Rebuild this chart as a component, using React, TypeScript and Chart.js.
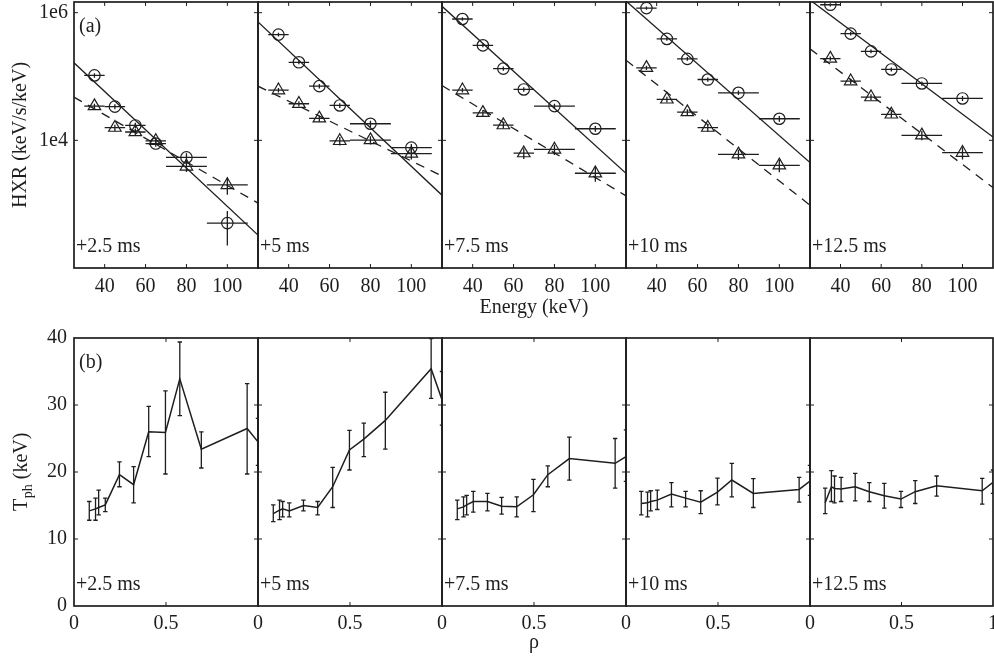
import React, { useEffect, useRef } from 'react';
import { Chart, registerables } from 'chart.js';

Chart.register(...registerables);

const FONT_FAMILY = '"Liberation Serif", "Times New Roman", serif';
const INK = '#1e1e1e';

// ---------- shared labels ----------
const panelDelays = ['+2.5 ms', '+5 ms', '+7.5 ms', '+10 ms', '+12.5 ms'];

// ---------- (a) HXR spectra ----------
const energies = [35, 45, 55, 65, 80, 100];
const binLow = [30, 40, 50, 60, 70, 90];
const binHigh = [40, 50, 60, 70, 90, 110];
const energyTicks = [40, 60, 80, 100];
const hxrTicks = [1e4, 1e6];
const hxrTickLabels = ['1e4', '1e6'];
const fitEnergy = [25, 115];

const circles1 = [1.04e5, 3.37e4, 1.71e4, 8.9e3, 5.4e3, 505];
const circles2 = [4.53e5, 1.67e5, 7.06e4, 3.52e4, 1.82e4, 7.7e3];
const circles3 = [7.96e5, 3.08e5, 1.33e5, 6.27e4, 3.44e4, 1.52e4];
const circles4 = [1.18e6, 3.88e5, 1.89e5, 8.97e4, 5.56e4, 2.18e4];
const circles5 = [1.33e6, 4.7e5, 2.48e5, 1.29e5, 7.78e4, 4.53e4];

const circleErr1 = [8e3, 3e3, 1.8e3, 1.0e3, 900, 280];
const circleErr2 = [3e4, 1.2e4, 6e3, 3e3, 2e3, 1.1e3];
const circleErr3 = [5e4, 2e4, 1e4, 5e3, 3e3, 1.6e3];
const circleErr4 = [7e4, 2.5e4, 1.3e4, 7e3, 4.5e3, 2.2e3];
const circleErr5 = [8e4, 3e4, 1.6e4, 9e3, 6e3, 4e3];

const triangles1 = [3.44e4, 1.58e4, 1.35e4, 9.8e3, 3.9e3, 2.0e3];
const triangles2 = [6.1e4, 3.74e4, 2.21e4, 9.8e3, 1.01e4, 6.2e3];
const triangles3 = [6.1e4, 2.7e4, 1.73e4, 6.3e3, 7.2e3, 3.05e3];
const triangles4 = [1.37e5, 4.38e4, 2.77e4, 1.58e4, 6.04e3, 4.06e3];
const triangles5 = [1.91e5, 8.45e4, 4.75e4, 2.55e4, 1.2e4, 6.4e3];

const triangleErr1 = [3e3, 1.8e3, 1.6e3, 1.2e3, 700, 600];
const triangleErr2 = [5e3, 3.5e3, 2.5e3, 1.5e3, 1.5e3, 1.2e3];
const triangleErr3 = [5e3, 3e3, 2e3, 1.2e3, 1.3e3, 800];
const triangleErr4 = [1e4, 4.5e3, 3e3, 2.2e3, 1.1e3, 900];
const triangleErr5 = [1.4e4, 8e3, 5e3, 3e3, 2e3, 1.4e3];

// fitted power laws, values at 25 keV and 115 keV
const fitSolid1 = [1.64e5, 328];
const fitSolid2 = [7.16e5, 1.38e3];
const fitSolid3 = [1.26e6, 3.05e3];
const fitSolid4 = [1.52e6, 4.48e3];
const fitSolid5 = [1.58e6, 1.13e4];
const fitDashed1 = [4.75e4, 1.04e3];
const fitDashed2 = [7.05e4, 2.77e3];
const fitDashed3 = [7.2e4, 1.35e3];
const fitDashed4 = [1.8e5, 964];
const fitDashed5 = [2.71e5, 1.82e3];

const hxrCircles = [circles1, circles2, circles3, circles4, circles5];
const hxrCircleErr = [circleErr1, circleErr2, circleErr3, circleErr4, circleErr5];
const hxrTriangles = [triangles1, triangles2, triangles3, triangles4, triangles5];
const hxrTriangleErr = [triangleErr1, triangleErr2, triangleErr3, triangleErr4, triangleErr5];
const hxrFitSolid = [fitSolid1, fitSolid2, fitSolid3, fitSolid4, fitSolid5];
const hxrFitDashed = [fitDashed1, fitDashed2, fitDashed3, fitDashed4, fitDashed5];

// ---------- (b) photon temperature profiles ----------
const rho = [0.083, 0.117, 0.134, 0.170, 0.247, 0.324, 0.406, 0.497, 0.575, 0.692, 0.941, 1.0];
const rhoTicks = [0, 0.5, 1];
const rhoTickLabels = ['0', '0.5', '1'];
const tphTicks = [0, 10, 20, 30, 40];

const tph1 = [14.2, 14.5, 14.7, 15.1, 19.6, 18.1, 26.0, 25.9, 33.9, 23.4, 26.5, 24.5];
const tph2 = [13.8, 14.3, 14.5, 14.2, 15.0, 14.7, 17.8, 23.3, 24.9, 27.7, 35.4, 30.8];
const tph3 = [14.5, 14.8, 15.1, 15.6, 15.6, 14.9, 14.8, 16.6, 19.6, 22.0, 21.3, 22.3];
const tph4 = [15.3, 15.4, 15.6, 15.8, 16.7, 16.1, 15.5, 17.0, 18.8, 16.8, 17.4, 18.65];
const tph5 = [15.4, 17.8, 17.55, 17.46, 17.8, 17.06, 16.46, 15.96, 17.06, 17.96, 17.2, 18.45];

const tphLow1 = [12.8, 12.8, 13.6, 14.1, 17.8, 15.4, 22.3, 19.7, 28.4, 20.6, 19.7, 21.0];
const tphLow2 = [12.6, 12.9, 13.3, 13.3, 14.2, 13.6, 14.7, 20.3, 22.3, 23.4, 31.0, 27.0];
const tphLow3 = [12.9, 13.3, 13.6, 14.0, 14.2, 13.7, 13.3, 14.1, 17.8, 18.8, 17.6, 18.6];
const tphLow4 = [13.6, 13.3, 14.2, 14.4, 14.8, 14.8, 13.8, 15.1, 16.3, 14.7, 15.5, 16.5];
const tphLow5 = [13.8, 15.6, 15.4, 15.6, 15.7, 15.6, 14.6, 14.7, 15.3, 16.4, 15.2, 16.8];

const tphHigh1 = [15.6, 16.1, 17.3, 16.1, 21.5, 20.8, 29.8, 32.1, 39.4, 26.0, 33.2, 28.0];
const tphHigh2 = [15.1, 15.8, 15.6, 15.4, 15.8, 15.6, 20.7, 26.2, 27.3, 31.9, 39.9, 35.0];
const tphHigh3 = [15.8, 16.3, 16.5, 17.1, 16.8, 16.2, 16.3, 18.9, 20.9, 25.2, 25.0, 26.3];
const tphHigh4 = [17.1, 17.0, 17.2, 17.3, 18.4, 17.1, 17.2, 19.1, 21.3, 19.0, 19.2, 21.0];
const tphHigh5 = [17.6, 20.2, 19.4, 19.2, 19.8, 18.4, 18.3, 17.1, 18.7, 19.4, 19.05, 20.3];

const tphSeries = [tph1, tph2, tph3, tph4, tph5];
const tphLowSeries = [tphLow1, tphLow2, tphLow3, tphLow4, tphLow5];
const tphHighSeries = [tphHigh1, tphHigh2, tphHigh3, tphHigh4, tphHigh5];

// ---------- layout (pixels) ----------
const W = 994;
const H = 664;
const panelLeft = [74, 258, 442, 626, 810];
const panelRight = [258, 442, 626, 810, 993];

const font20 = { family: FONT_FAMILY, size: 20 };

const decorPlugin = {
  id: 'decor',
  afterDatasetsDraw(chart: any, _args: any, opts: any) {
    const { ctx, chartArea: a } = chart;
    const xs = chart.scales.x;
    const ys = chart.scales.y;
    ctx.save();
    ctx.beginPath();
    ctx.rect(a.left, a.top, a.right - a.left, a.bottom - a.top);
    ctx.clip();
    ctx.strokeStyle = INK;
    ctx.lineWidth = 1.3;
    chart.data.datasets.forEach((ds: any, di: number) => {
      const eb = ds.errorBars;
      if (!eb) return;
      const meta = chart.getDatasetMeta(di);
      meta.data.forEach((pt: any, k: number) => {
        ctx.beginPath();
        if (eb.xLow) {
          ctx.moveTo(xs.getPixelForValue(eb.xLow[k]), pt.y);
          ctx.lineTo(xs.getPixelForValue(eb.xHigh[k]), pt.y);
        }
        const y0 = ys.getPixelForValue(eb.yLow[k]);
        const y1 = ys.getPixelForValue(eb.yHigh[k]);
        ctx.moveTo(pt.x, y0);
        ctx.lineTo(pt.x, y1);
        if (eb.cap) {
          ctx.moveTo(pt.x - eb.cap, y0);
          ctx.lineTo(pt.x + eb.cap, y0);
          ctx.moveTo(pt.x - eb.cap, y1);
          ctx.lineTo(pt.x + eb.cap, y1);
        }
        ctx.stroke();
      });
    });
    ctx.restore();
  },
  afterDraw(chart: any, _args: any, opts: any) {
    const { ctx, chartArea: a } = chart;
    const xs = chart.scales.x;
    const ys = chart.scales.y;
    const tl = 4;
    ctx.save();
    ctx.strokeStyle = INK;
    ctx.lineWidth = 1;
    ctx.beginPath();
    xs.ticks.forEach((t: any) => {
      const px = xs.getPixelForValue(t.value);
      if (px <= a.left + 1 || px >= a.right - 1) return;
      ctx.moveTo(px, a.bottom);
      ctx.lineTo(px, a.bottom - tl);
      ctx.moveTo(px, a.top);
      ctx.lineTo(px, a.top + tl);
    });
    ys.ticks.forEach((t: any) => {
      const py = ys.getPixelForValue(t.value);
      if (py <= a.top + 1 || py >= a.bottom - 1) return;
      ctx.moveTo(a.left, py);
      ctx.lineTo(a.left + tl, py);
      ctx.moveTo(a.right, py);
      ctx.lineTo(a.right - tl, py);
    });
    ctx.stroke();
    ctx.lineWidth = 1.7;
    ctx.strokeRect(a.left, a.top, a.right - a.left, a.bottom - a.top);

    ctx.fillStyle = INK;
    ctx.font = `20px ${FONT_FAMILY}`;
    ctx.textAlign = 'left';
    ctx.textBaseline = 'middle';
    if (opts.tag) ctx.fillText(opts.tag, a.left + 5, a.top + 25);
    if (opts.delay) ctx.fillText(opts.delay, a.left + 2, a.bottom - 21);

    if (opts.tphTitle) {
      ctx.save();
      ctx.translate(27, (a.top + a.bottom) / 2);
      ctx.rotate(-Math.PI / 2);
      ctx.textBaseline = 'alphabetic';
      ctx.font = `20px ${FONT_FAMILY}`;
      const wT = ctx.measureText('T').width;
      const wR = ctx.measureText(' (keV)').width;
      ctx.font = `14px ${FONT_FAMILY}`;
      const wS = ctx.measureText('ph').width;
      let x = -(wT + wS + wR) / 2;
      ctx.font = `20px ${FONT_FAMILY}`;
      ctx.fillText('T', x, 0);
      x += wT;
      ctx.font = `14px ${FONT_FAMILY}`;
      ctx.fillText('ph', x + 0.5, 5);
      x += wS + 0.5;
      ctx.font = `20px ${FONT_FAMILY}`;
      ctx.fillText(' (keV)', x, 0);
      ctx.restore();
    }
    ctx.restore();
  },
};

function topConfig(i: number): any {
  const first = i === 0;
  const circ = hxrCircles[i];
  const cErr = hxrCircleErr[i];
  const tri = hxrTriangles[i];
  const tErr = hxrTriangleErr[i];
  return {
    type: 'line',
    plugins: [decorPlugin],
    data: {
      datasets: [
        {
          data: fitEnergy.map((e, k) => ({ x: e, y: hxrFitSolid[i][k] })),
          borderColor: INK,
          borderWidth: 1.3,
          pointRadius: 0,
          clip: 0,
        },
        {
          data: fitEnergy.map((e, k) => ({ x: e, y: hxrFitDashed[i][k] })),
          borderColor: INK,
          borderWidth: 1.3,
          borderDash: [9, 7],
          pointRadius: 0,
          clip: 0,
        },
        {
          data: energies.map((e, k) => ({ x: e, y: tri[k] })),
          showLine: false,
          pointStyle: 'triangle',
          pointRadius: 7.2,
          pointBorderColor: INK,
          pointBackgroundColor: 'rgba(0,0,0,0)',
          pointBorderWidth: 1.2,
          clip: 0,
          errorBars: {
            xLow: binLow,
            xHigh: binHigh,
            yLow: tri.map((v, k) => v - tErr[k]),
            yHigh: tri.map((v, k) => v + tErr[k]),
          },
        },
        {
          data: energies.map((e, k) => ({ x: e, y: circ[k] })),
          showLine: false,
          pointStyle: 'circle',
          pointRadius: 5.7,
          pointBorderColor: INK,
          pointBackgroundColor: 'rgba(0,0,0,0)',
          pointBorderWidth: 1.2,
          clip: 0,
          errorBars: {
            xLow: binLow,
            xHigh: binHigh,
            yLow: circ.map((v, k) => v - cErr[k]),
            yHigh: circ.map((v, k) => v + cErr[k]),
          },
        },
      ],
    },
    options: {
      responsive: false,
      animation: false,
      events: [],
      layout: {
        autoPadding: false,
        padding: { left: first ? 0 : panelLeft[i], right: W - panelRight[i], top: 2, bottom: H - 320 },
      },
      plugins: {
        legend: { display: false },
        tooltip: { enabled: false },
        decor: { tag: first ? '(a)' : '', delay: panelDelays[i] },
      },
      scales: {
        x: {
          type: 'linear',
          min: 25,
          max: 115,
          grid: { display: false, drawTicks: false },
          border: { display: false },
          afterBuildTicks: (s: any) => {
            s.ticks = energyTicks.map((v) => ({ value: v }));
          },
          afterFit: (s: any) => {
            s.height = 52;
            s.paddingLeft = 0;
            s.paddingRight = 0;
          },
          ticks: {
            autoSkip: false,
            maxRotation: 0,
            padding: 7,
            color: INK,
            font: font20,
            callback: (v: any) => String(v),
          },
          title: {
            display: i === 2,
            text: 'Energy (keV)',
            color: INK,
            font: font20,
            padding: { top: 0, bottom: 0 },
          },
        },
        y: {
          type: 'logarithmic',
          min: 100,
          max: 1.47e6,
          grid: { display: false, drawTicks: false },
          border: { display: false },
          afterBuildTicks: (s: any) => {
            s.ticks = hxrTicks.map((v) => ({ value: v }));
          },
          afterFit: (s: any) => {
            s.width = first ? 74 : 0;
            s.paddingTop = 0;
            s.paddingBottom = 0;
          },
          ticks: {
            display: first,
            padding: 6,
            color: INK,
            font: font20,
            callback: (v: any) => {
              const k = hxrTicks.indexOf(Number(v));
              return k >= 0 ? hxrTickLabels[k] : '';
            },
          },
          title: {
            display: first,
            text: 'HXR (keV/s/keV)',
            color: INK,
            font: font20,
            padding: { top: 9, bottom: 0 },
          },
        },
      },
    },
  };
}

function bottomConfig(i: number): any {
  const first = i === 0;
  const last = i === 4;
  return {
    type: 'line',
    plugins: [decorPlugin],
    data: {
      datasets: [
        {
          data: rho.map((r, k) => ({ x: r, y: tphSeries[i][k] })),
          borderColor: INK,
          borderWidth: 1.5,
          pointRadius: 0,
          tension: 0,
          clip: 0,
          errorBars: { yLow: tphLowSeries[i], yHigh: tphHighSeries[i], cap: 2.2 },
        },
      ],
    },
    options: {
      responsive: false,
      animation: false,
      events: [],
      layout: {
        autoPadding: false,
        padding: { left: first ? 0 : panelLeft[i], right: W - panelRight[i], top: 338, bottom: 9 },
      },
      plugins: {
        legend: { display: false },
        tooltip: { enabled: false },
        decor: { tag: first ? '(b)' : '', delay: panelDelays[i], tphTitle: first },
      },
      scales: {
        x: {
          type: 'linear',
          min: 0,
          max: 1,
          grid: { display: false, drawTicks: false },
          border: { display: false },
          afterBuildTicks: (s: any) => {
            s.ticks = rhoTicks.map((v) => ({ value: v }));
          },
          afterFit: (s: any) => {
            s.height = 49;
            s.paddingLeft = 0;
            s.paddingRight = 0;
          },
          ticks: {
            autoSkip: false,
            maxRotation: 0,
            padding: 6,
            color: INK,
            font: font20,
            callback: (v: any) => {
              const k = rhoTicks.indexOf(Number(v));
              if (k < 0) return '';
              if (!last && Number(v) === 1) return '';
              return rhoTickLabels[k];
            },
          },
          title: {
            display: i === 2,
            text: 'ρ',
            color: INK,
            font: font20,
            padding: { top: 0, bottom: 0 },
          },
        },
        y: {
          type: 'linear',
          min: 0,
          max: 40,
          grid: { display: false, drawTicks: false },
          border: { display: false },
          afterBuildTicks: (s: any) => {
            s.ticks = tphTicks.map((v) => ({ value: v }));
          },
          afterFit: (s: any) => {
            s.width = first ? 74 : 0;
            s.paddingTop = 0;
            s.paddingBottom = 0;
          },
          ticks: {
            display: first,
            padding: 7,
            color: INK,
            font: font20,
            callback: (v: any) => String(v),
          },
        },
      },
    },
  };
}

export default function App() {
  const refs = useRef<(HTMLCanvasElement | null)[]>([]);
  useEffect(() => {
    const charts: Chart[] = [];
    for (let i = 0; i < 5; i++) {
      const c1 = refs.current[i];
      const c2 = refs.current[i + 5];
      if (c1) charts.push(new Chart(c1, topConfig(i)));
      if (c2) charts.push(new Chart(c2, bottomConfig(i)));
    }
    return () => charts.forEach((c) => c.destroy());
  }, []);
  const canvases = [];
  for (let k = 0; k < 10; k++) {
    canvases.push(
      <canvas
        key={k}
        ref={(el) => {
          refs.current[k] = el;
        }}
        width={W}
        height={H}
        style={{ position: 'absolute', left: 0, top: 0, width: W, height: H, pointerEvents: 'none' }}
      />
    );
  }
  return (
    <div style={{ position: 'absolute', left: 0, top: 0, width: W, height: H, background: '#fff', overflow: 'hidden' }}>
      {canvases}
    </div>
  );
}
